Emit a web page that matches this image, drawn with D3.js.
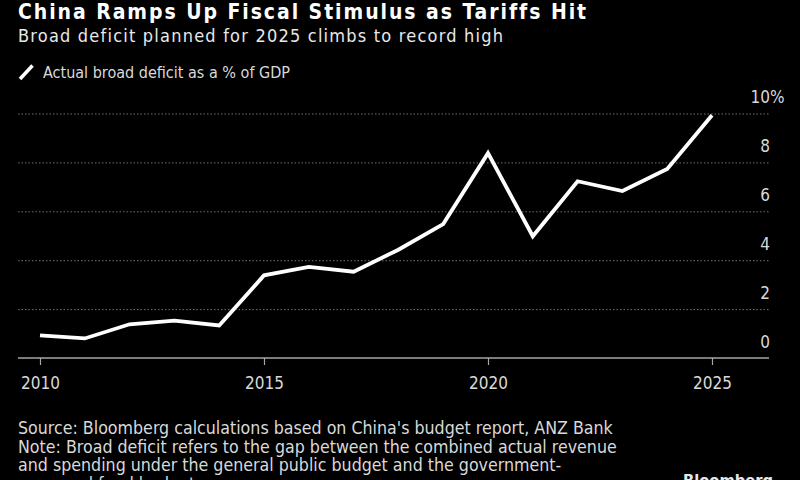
<!DOCTYPE html>
<html>
<head>
<meta charset="utf-8">
<script src="https://cdn.jsdelivr.net/npm/d3@7"></script>
<style>
  html, body { margin: 0; padding: 0; background: #000; }
  svg { display: block; }
  text { font-family: "DejaVu Sans Condensed", "DejaVu Sans", sans-serif; }
</style>
</head>
<body>
<svg id="chart" width="800" height="480"></svg>
<script>
const years = [2010, 2011, 2012, 2013, 2014, 2015, 2016, 2017, 2018, 2019, 2020, 2021, 2022, 2023, 2024, 2025];
const deficit = [0.95, 0.82, 1.4, 1.55, 1.35, 3.4, 3.75, 3.55, 4.45, 5.5, 8.4, 5.0, 7.25, 6.85, 7.75, 9.95];
const yTicks = [0, 2, 4, 6, 8, 10];
const xTicks = [2010, 2015, 2020, 2025];
const title = "China Ramps Up Fiscal Stimulus as Tariffs Hit";
const subtitle = "Broad deficit planned for 2025 climbs to record high";
const legendLabel = "Actual broad deficit as a % of GDP";
const footer = [
  "Source: Bloomberg calculations based on China's budget report, ANZ Bank",
  "Note: Broad deficit refers to the gap between the combined actual revenue",
  "and spending under the general public budget and the government-",
  "approved fund budget."
];

const svg = d3.select("#chart");
svg.append("rect").attr("width", 800).attr("height", 480).attr("fill", "#000");

const x = d3.scaleLinear().domain([2010, 2025]).range([40, 712]);
const y = d3.scaleLinear().domain([0, 10]).range([358.5, 114]);

// scale a text's font-size so that it spans a given width
function fit(sel, width) {
  const node = sel.node();
  const fs = parseFloat(sel.attr("font-size"));
  const w = node.getComputedTextLength();
  if (w > 0) sel.attr("font-size", (fs * width / w).toFixed(2));
  return sel;
}
// keep font-size, spread letters so that the text spans a given width
function spread(sel, width) {
  const node = sel.node();
  const w = node.getComputedTextLength();
  const n = sel.text().length;
  if (w > 0 && n > 1) sel.attr("letter-spacing", ((width - w) / (n - 1)).toFixed(3));
  return sel;
}

// title
spread(svg.append("text").attr("x", 18).attr("y", 18.5)
  .attr("fill", "#fff").attr("font-size", 21).attr("font-weight", "bold")
  .attr("font-family", "'DejaVu Sans', sans-serif")
  .text(title), 567);
spread(svg.append("text").attr("x", 18).attr("y", 42)
  .attr("fill", "#e8e8e8").attr("font-size", 18)
  .attr("font-family", "'DejaVu Sans', sans-serif")
  .text(subtitle), 485);

// legend
svg.append("line").attr("x1", 20).attr("y1", 79).attr("x2", 32.5).attr("y2", 65.5)
  .attr("stroke", "#fff").attr("stroke-width", 3.5).attr("stroke-linecap", "butt");
fit(svg.append("text").attr("x", 43).attr("y", 78)
  .attr("fill", "#d9d9d9").attr("font-size", 16)
  .text(legendLabel), 247);

// gridlines
const grid = svg.append("g");
grid.selectAll("line").data(yTicks.filter(d => d > 0)).join("line")
  .attr("x1", 18).attr("x2", 769)
  .attr("y1", d => y(d)).attr("y2", d => y(d))
  .attr("stroke", "#707070").attr("stroke-width", 1)
  .attr("stroke-dasharray", "1.5,2");

// y labels (above gridlines, right-aligned, % hanging)
const yl = svg.append("g");
yl.selectAll("text").data(yTicks).join("text")
  .attr("x", 770).attr("y", d => y(d) - 11)
  .attr("text-anchor", "end")
  .attr("fill", "#d9d9d9").attr("font-size", 17)
  .text(d => d);
yl.append("text").attr("x", 770).attr("y", y(10) - 11)
  .attr("fill", "#d9d9d9").attr("font-size", 17).text("%");

// x axis
const xAxis = d3.axisBottom(x).tickValues(xTicks).tickFormat(d3.format("d")).tickSize(7).tickPadding(12);
const gx = svg.append("g").attr("transform", `translate(0,${358})`).call(xAxis);
gx.select(".domain").remove();
gx.selectAll(".tick line").attr("stroke", "#a6a6a6").attr("stroke-width", 1.2);
gx.selectAll(".tick text").attr("fill", "#d9d9d9").attr("font-size", 17)
  .attr("font-family", "'DejaVu Sans Condensed', 'DejaVu Sans', sans-serif");
svg.append("line").attr("x1", 18).attr("x2", 769).attr("y1", 358).attr("y2", 358)
  .attr("stroke", "#a6a6a6").attr("stroke-width", 1.5);

// line
const line = d3.line().x((d, i) => x(years[i])).y(d => y(d));
svg.append("path").datum(deficit)
  .attr("d", line)
  .attr("fill", "none").attr("stroke", "#fff").attr("stroke-width", 3.8)
  .attr("stroke-linejoin", "miter");

// footer
const ft = svg.append("g").selectAll("text").data(footer).join("text")
  .attr("x", 18).attr("y", (d, i) => 434 + i * 18.5)
  .attr("fill", "#d9d9d9").attr("font-size", 17)
  .text(d => d);
const f0 = d3.select(ft.nodes()[0]);
fit(f0, 595);
ft.attr("font-size", f0.attr("font-size"));

fit(svg.append("text").attr("x", 683).attr("y", 486)
  .attr("fill", "#e6e6e6").attr("font-size", 17).attr("font-weight", "bold")
  .text("Bloomberg"), 90);
</script>
</body>
</html>
